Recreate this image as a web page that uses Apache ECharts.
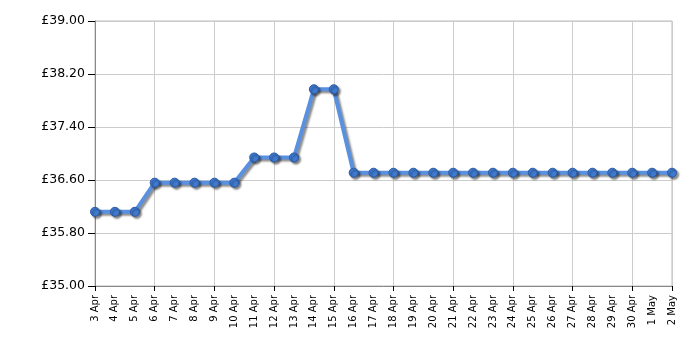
<!DOCTYPE html>
<html>
<head>
<meta charset="utf-8">
<script src="https://cdn.jsdelivr.net/npm/echarts@6/dist/echarts.min.js"></script>
<style>html,body{margin:0;padding:0;background:#fff}#c{width:700px;height:350px}</style>
</head>
<body>
<div id="c"></div>
<script>
const categories = ['3 Apr','4 Apr','5 Apr','6 Apr','7 Apr','8 Apr','9 Apr','10 Apr','11 Apr','12 Apr','13 Apr','14 Apr','15 Apr','16 Apr','17 Apr','18 Apr','19 Apr','20 Apr','21 Apr','22 Apr','23 Apr','24 Apr','25 Apr','26 Apr','27 Apr','28 Apr','29 Apr','30 Apr','1 May','2 May'];
const prices = [36.12,36.12,36.12,36.56,36.56,36.56,36.56,36.56,36.94,36.94,36.94,37.97,37.97,36.71,36.71,36.71,36.71,36.71,36.71,36.71,36.71,36.71,36.71,36.71,36.71,36.71,36.71,36.71,36.71,36.71];
const yTicks = [35.0, 35.8, 36.6, 37.4, 38.2, 39.0];

const chart = echarts.init(document.getElementById('c'), null, {renderer: 'canvas'});
chart.setOption({
  animation: false,
  backgroundColor: '#fff',
  grid: {left: 95, right: 28, top: 21, bottom: 64, show: true, borderColor: '#bbb', borderWidth: 1},
  xAxis: {
    type: 'category',
    data: categories,
    boundaryGap: false,
    axisLine: {lineStyle: {color: '#888', width: 1}},
    axisTick: {interval: 2, length: 5, lineStyle: {color: '#000'}},
    splitLine: {show: true, interval: 2, lineStyle: {color: '#ccc', width: 1}},
    axisLabel: {interval: 0, rotate: 90, margin: 9, color: '#000', fontFamily: 'DejaVu Sans', fontSize: 10}
  },
  yAxis: {
    type: 'value',
    min: 35,
    max: 39,
    axisLine: {show: true, lineStyle: {color: '#888', width: 1}},
    axisTick: {show: true, length: 7, customValues: yTicks, lineStyle: {color: '#000'}},
    splitLine: {show: true, lineStyle: {color: '#ccc', width: 1}},
    axisLabel: {customValues: yTicks, margin: 10, color: '#000', fontFamily: 'DejaVu Sans', fontSize: 12.5,
      formatter: v => '£' + v.toFixed(2)}
  },
  series: [{
    type: 'line',
    data: prices,
    symbol: 'circle',
    symbolSize: 9,
    lineStyle: {color: '#5a90e0', width: 4, shadowColor: 'rgba(0,0,0,0.45)', shadowOffsetX: 2, shadowOffsetY: 2, shadowBlur: 2},
    itemStyle: {color: '#3f7ad0', borderColor: '#2a5aa5', borderWidth: 1, shadowColor: 'rgba(0,0,0,0.45)', shadowOffsetX: 2, shadowOffsetY: 2, shadowBlur: 2}
  }]
});
</script>
</body>
</html>
